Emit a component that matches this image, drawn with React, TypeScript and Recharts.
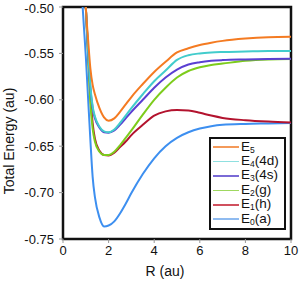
import React from 'react';
import {
  LineChart,
  Line,
  XAxis,
  YAxis,
  ReferenceArea,
  Label,
} from 'recharts';

// bond length grid (au)
const rValues = [0.8, 0.9, 1.0, 1.1, 1.2, 1.3, 1.4, 1.6, 1.8, 2.0, 2.25, 2.5, 2.75, 3.0, 3.5, 4.0, 4.5, 5.0, 5.5, 6.0, 6.5, 7.0, 8.0, 9.0, 10.0];

// total energies (au)
const e0 = [-0.475, -0.515, -0.553, -0.598, -0.643, -0.683, -0.705, -0.727, -0.7365, -0.7355, -0.731, -0.7225, -0.712, -0.7005, -0.68, -0.663, -0.65, -0.641, -0.635, -0.631, -0.6285, -0.627, -0.626, -0.6255, -0.625];
const e1 = [-0.4, -0.45, -0.5, -0.55, -0.595, -0.625, -0.642, -0.655, -0.6595, -0.66, -0.657, -0.651, -0.645, -0.638, -0.627, -0.617, -0.6125, -0.611, -0.6115, -0.614, -0.617, -0.6195, -0.622, -0.6235, -0.6245];
const e2 = [-0.4, -0.45, -0.5, -0.553, -0.603, -0.631, -0.645, -0.656, -0.6595, -0.6595, -0.656, -0.649, -0.641, -0.633, -0.616, -0.6, -0.587, -0.576, -0.569, -0.565, -0.5625, -0.561, -0.558, -0.5565, -0.556];
const e3 = [-0.4, -0.45, -0.5, -0.547, -0.587, -0.609, -0.62, -0.63, -0.635, -0.6355, -0.633, -0.627, -0.62, -0.613, -0.6, -0.587, -0.576, -0.5675, -0.562, -0.5595, -0.558, -0.5572, -0.5565, -0.556, -0.5558];
const e4 = [-0.4, -0.45, -0.5, -0.545, -0.585, -0.607, -0.618, -0.629, -0.634, -0.635, -0.632, -0.625, -0.617, -0.609, -0.594, -0.58, -0.5685, -0.557, -0.552, -0.55, -0.549, -0.5485, -0.548, -0.5475, -0.5474];
const e5 = [-0.4, -0.44, -0.5, -0.535, -0.566, -0.584, -0.594, -0.609, -0.619, -0.6225, -0.62, -0.613, -0.605, -0.597, -0.583, -0.57, -0.559, -0.549, -0.5445, -0.541, -0.5385, -0.5365, -0.534, -0.5325, -0.532];

const xTicks = [0, 2, 4, 6, 8, 10];
const yTicks = [-0.75, -0.7, -0.65, -0.6, -0.55, -0.5];

const series = [
  { key: 'e0', sub: '0', suffix: '(a)', color: '#3d8ff0', legendColor: '#8fbbf0', values: e0 },
  { key: 'e1', sub: '1', suffix: '(h)', color: '#b3132e', legendColor: '#d0505e', values: e1 },
  { key: 'e2', sub: '2', suffix: '(g)', color: '#7dcc1c', legendColor: '#9fd860', values: e2 },
  { key: 'e3', sub: '3', suffix: '(4s)', color: '#5a3fd2', legendColor: '#7a6ad6', values: e3 },
  { key: 'e4', sub: '4', suffix: '(4d)', color: '#42cccc', legendColor: '#8fe0e0', values: e4 },
  { key: 'e5', sub: '5', suffix: '', color: '#f47b22', legendColor: '#f49a5a', values: e5 },
];

const data = rValues.map((r, i) => {
  const row: Record<string, number> = { r };
  series.forEach((s) => {
    row[s.key] = s.values[i];
  });
  return row;
});

const font = '"Liberation Sans", Arial, sans-serif';

const EnergyLegend = () => (
  <div
    style={{
      position: 'absolute',
      left: 209,
      top: 137,
      width: 77,
      boxSizing: 'border-box',
      border: '2px solid #111',
      background: '#fff',
      padding: '1px 0 2px 2px',
      fontFamily: font,
      fontSize: 13.5,
      lineHeight: '13px',
      color: '#111',
    }}
  >
    {[...series].reverse().map((s) => (
      <div key={s.key} style={{ display: 'flex', alignItems: 'center', height: 14.4 }}>
        <div style={{ width: 26, height: 1.5, background: s.legendColor, marginRight: 2 }} />
        <span style={{ whiteSpace: 'nowrap' }}>
          E
          <span style={{ fontSize: 8.5, position: 'relative', top: 2 }}>{s.sub}</span>
          {s.suffix}
        </span>
      </div>
    ))}
  </div>
);

const App: React.FC = () => {
  return (
    <div style={{ position: 'absolute', left: 0, top: 0, width: 300, height: 284, background: '#fff' }}>
      <LineChart
        width={300}
        height={284}
        data={data}
        margin={{ top: 7, right: 9, bottom: 0, left: 0 }}
        style={{ fontFamily: font }}
      >
        <XAxis
          dataKey="r"
          type="number"
          domain={[0, 10]}
          ticks={xTicks}
          height={45}
          axisLine={false}
          tickSize={4}
          tickMargin={3}
          tickLine={{ stroke: '#999' }}
          tick={{ fill: '#111', fontSize: 13 }}
        >
          <Label
            content={() => (
              <text x={165} y={276} textAnchor="middle" fontSize={14} fill="#111" fontFamily={font}>
                R (au)
              </text>
            )}
          />
        </XAxis>
        <YAxis
          type="number"
          domain={[-0.75, -0.5]}
          allowDataOverflow
          ticks={yTicks}
          width={63}
          axisLine={false}
          tickSize={4}
          tickMargin={5}
          tickLine={{ stroke: '#999' }}
          tick={{ fill: '#111', fontSize: 13 }}
          tickFormatter={(v: number) => v.toFixed(2)}
        >
          <Label
            content={() => (
              <text
                x={9}
                y={141}
                transform="rotate(-90 9 141)"
                textAnchor="middle"
                dominantBaseline="central"
                fontSize={14}
                fill="#111"
                fontFamily={font}
              >
                Total Energy (au)
              </text>
            )}
          />
        </YAxis>
        {series.map((s) => (
          <Line
            key={s.key}
            dataKey={s.key}
            type="monotone"
            stroke={s.color}
            strokeWidth={2}
            dot={false}
            activeDot={false}
            isAnimationActive={false}
          />
        ))}
        <ReferenceArea x1={0} x2={10} y1={-0.75} y2={-0.5} fill="none" stroke="#111" strokeWidth={2.5} />
      </LineChart>
      <EnergyLegend />
    </div>
  );
};

export default App;
